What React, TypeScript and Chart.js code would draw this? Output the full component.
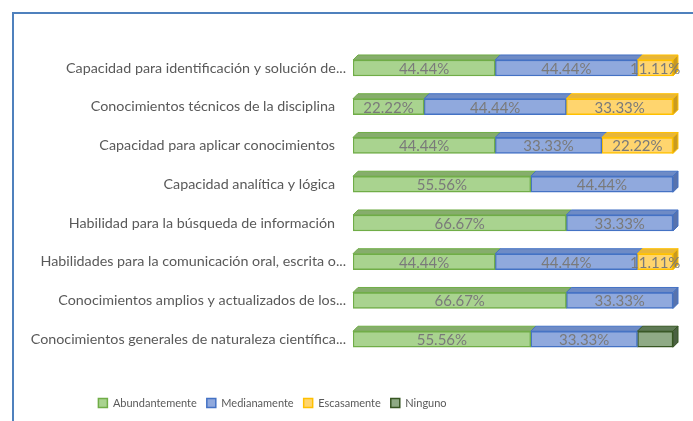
import React, { useEffect, useRef } from "react";
import { Chart, registerables } from "chart.js";

Chart.register(...registerables);

const categories = [
  "Capacidad para identificación y solución de...",
  "Conocimientos técnicos de la disciplina",
  "Capacidad para aplicar conocimientos",
  "Capacidad analítica y lógica",
  "Habilidad para la búsqueda de información",
  "Habilidades para la comunicación oral, escrita o...",
  "Conocimientos amplios y actualizados de los...",
  "Conocimientos generales de naturaleza científica...",
];

const seriesNames = ["Abundantemente", "Medianamente", "Escasamente", "Ninguno"];

const abundantemente = [44.44, 22.22, 44.44, 55.56, 66.67, 44.44, 66.67, 55.56];
const medianamente = [44.44, 44.44, 33.33, 44.44, 33.33, 44.44, 33.33, 33.33];
const escasamente = [11.11, 33.33, 22.22, 0, 0, 11.11, 0, 0];
const ninguno = [0, 0, 0, 0, 0, 0, 0, 11.11];

const showValueLabels = [true, true, true, false];

const fills = ["#a9d38f", "#90a9dd", "#ffd56e", "#8faa85"];
const borders = ["#70ad47", "#4472c4", "#ffc000", "#375623"];
const tops = ["#86ad6c", "#6e8bc6", "#e7b63a", "#5f7a55"];
const sides = ["#6a8f52", "#5873ad", "#c99a20", "#4a6042"];

const FONT = "Lato, 'Open Sans', sans-serif";

export default function App() {
  const ref = useRef<HTMLCanvasElement | null>(null);

  useEffect(() => {
    const canvas = ref.current;
    if (!canvas) return;
    const seriesData = [abundantemente, medianamente, escasamente, ninguno];

    const framePlugin = {
      id: "frame",
      beforeDraw(chart: any) {
        const ctx = chart.ctx;
        ctx.save();
        ctx.fillStyle = "#ffffff";
        ctx.fillRect(0, 0, chart.width, chart.height);
        ctx.strokeStyle = "#4f81bd";
        ctx.lineWidth = 2;
        ctx.beginPath();
        ctx.moveTo(13, chart.height);
        ctx.lineTo(13, 13);
        ctx.lineTo(chart.width, 13);
        ctx.stroke();
        ctx.restore();
      },
    };

    const legendShift = {
      id: "legendShift",
      afterLayout(chart: any) {
        const l = chart.legend;
        if (l) {
          l.left = 0;
          l.right = 545;
        }
      },
    };

    const depthPlugin = {
      id: "depth",
      afterDatasetsDraw(chart: any) {
        const ctx = chart.ctx;
        const d = 5;
        const n = chart.data.datasets.length;
        ctx.save();
        for (let i = 0; i < n; i++) {
          const meta = chart.getDatasetMeta(i);
          meta.data.forEach((bar: any, j: number) => {
            const v = chart.data.datasets[i].data[j];
            if (!v) return;
            const p = bar.getProps(["x", "y", "base", "height"], true);
            const left = Math.min(p.x, p.base);
            const right = Math.max(p.x, p.base);
            const top = p.y - p.height / 2;
            const bottom = p.y + p.height / 2;
            ctx.lineWidth = 1;
            ctx.strokeStyle = borders[i];
            ctx.fillStyle = tops[i];
            ctx.beginPath();
            ctx.moveTo(left, top);
            ctx.lineTo(left + d, top - d);
            ctx.lineTo(right + d, top - d);
            ctx.lineTo(right, top);
            ctx.closePath();
            ctx.fill();
            ctx.stroke();
            let last = true;
            for (let k = i + 1; k < n; k++) {
              if (chart.data.datasets[k].data[j]) last = false;
            }
            if (last) {
              ctx.fillStyle = sides[i];
              ctx.beginPath();
              ctx.moveTo(right, top);
              ctx.lineTo(right + d, top - d);
              ctx.lineTo(right + d, bottom - d);
              ctx.lineTo(right, bottom);
              ctx.closePath();
              ctx.fill();
              ctx.stroke();
            }
          });
        }
        ctx.font = `15px ${FONT}`;
        ctx.fillStyle = "#7a7a7a";
        ctx.textAlign = "center";
        ctx.textBaseline = "middle";
        for (let i = 0; i < n; i++) {
          if (!showValueLabels[i]) continue;
          const meta = chart.getDatasetMeta(i);
          meta.data.forEach((bar: any, j: number) => {
            const v = chart.data.datasets[i].data[j];
            if (!v) return;
            const p = bar.getProps(["x", "y", "base"], true);
            ctx.fillText(v.toFixed(2) + "%", (p.x + p.base) / 2, p.y + 1);
          });
        }
        ctx.restore();
      },
    };

    const chart = new Chart(canvas, {
      type: "bar",
      data: {
        labels: categories,
        datasets: seriesData.map((data, i) => ({
          label: seriesNames[i],
          data,
          backgroundColor: fills[i],
          borderColor: borders[i],
          borderWidth: 1.5,
          borderSkipped: false,
          barThickness: 16,
        })),
      },
      options: {
        indexAxis: "y",
        responsive: false,
        animation: false,
        layout: { padding: { top: 48.6, right: 20, bottom: 2.5, left: 0 } },
        scales: {
          x: {
            stacked: true,
            min: 0,
            max: 100,
            grid: { display: false, drawTicks: false },
            border: { display: false },
            ticks: { display: false },
            afterFit(scale: any) {
              scale.height = 28.9;
            },
          },
          y: {
            stacked: true,
            grid: { display: false, drawTicks: false, tickLength: 0 },
            border: { display: false },
            ticks: {
              color: "#595959",
              font: { family: FONT, size: 14.3 },
              padding: 7,
              callback(this: any, value: any) {
                const lbl = categories[value as number];
                return lbl.endsWith("...") ? lbl : lbl + "   ";
              },
            },
            afterFit(scale: any) {
              scale.width = 353;
            },
          },
        },
        plugins: {
          legend: {
            position: "bottom",
            labels: {
              boxWidth: 9,
              boxHeight: 9,
              padding: 10,
              color: "#595959",
              font: { family: FONT, size: 11 },
            },
          },
          tooltip: { enabled: false },
        },
      },
      plugins: [framePlugin, legendShift, depthPlugin],
    } as any);

    return () => chart.destroy();
  }, []);

  return (
    <div style={{ position: "fixed", left: 0, top: 0, width: 693, height: 421 }}>
      <canvas ref={ref} width={693} height={421} style={{ display: "block" }} />
    </div>
  );
}
